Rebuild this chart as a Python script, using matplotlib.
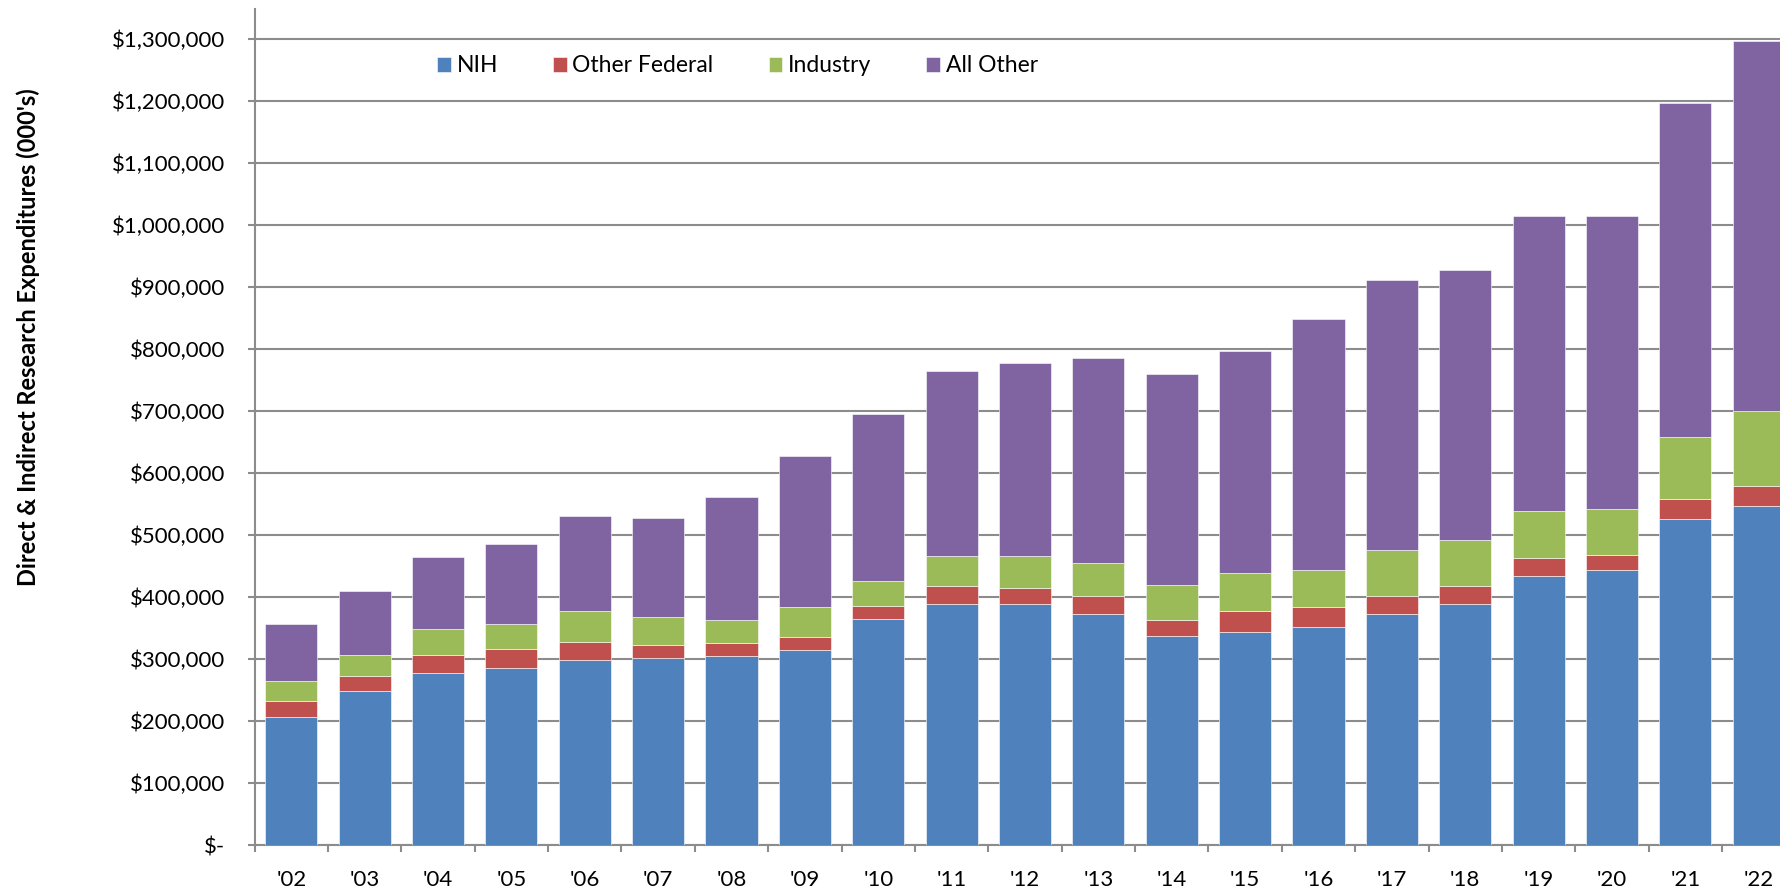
"""
Stacked bars of research expenditures by funding source, FY02 - FY22
"""

import matplotlib
matplotlib.use("Agg")
import matplotlib.pyplot as plt
import numpy as np
from matplotlib.ticker import FuncFormatter, MultipleLocator

years = ["'02", "'03", "'04", "'05", "'06", "'07", "'08", "'09", "'10", "'11", "'12",
         "'13", "'14", "'15", "'16", "'17", "'18", "'19", "'20", "'21", "'22"]

# values in $000's
nih = [207000, 248000, 278000, 285000, 298000, 301000, 305000, 314000, 364000, 389000, 389000,
       372000, 337000, 343000, 351000, 372000, 389000, 434000, 443000, 526000, 546000]
other_federal = [25000, 25000, 28000, 31000, 29000, 21000, 20000, 21000, 21000, 29000, 26000,
                 30000, 25000, 34000, 33000, 30000, 29000, 29000, 25000, 32000, 33000]
industry = [32000, 33000, 43000, 40000, 50000, 45000, 38000, 49000, 41000, 48000, 51000,
            52000, 58000, 61000, 59000, 73000, 74000, 75000, 73000, 100000, 121000]
all_other = [92000, 104000, 115000, 130000, 153000, 161000, 198000, 243000, 269000, 298000, 311000,
             332000, 340000, 359000, 405000, 436000, 435000, 476000, 473000, 539000, 596000]

series = [("NIH", nih, "#4F81BD"),
          ("Other Federal", other_federal, "#C0504D"),
          ("Industry", industry, "#9BBB59"),
          ("All Other", all_other, "#8064A2")]

plt.rcParams["font.family"] = ["Lato", "DejaVu Sans"]
grid_gray = "#8C8C8C"

fig = plt.figure(figsize=(17.8, 8.92), dpi=100)
# axes run off the right edge of the figure, like the reference
ax = fig.add_axes([254.6 / 1780, 47 / 892, 1540.8 / 1780, 836 / 892])

x = np.arange(len(years))
bottom = np.zeros(len(years))
for name, vals, color in series:
    ax.bar(x, vals, width=0.71, bottom=bottom, color=color, label=name,
           edgecolor="white", linewidth=0.4, zorder=3)
    bottom += np.array(vals)

ax.set_xlim(-0.5, len(years) - 0.5)
ax.set_ylim(0, 1348000)

ax.yaxis.set_major_locator(MultipleLocator(100000))
ax.yaxis.set_major_formatter(FuncFormatter(lambda v, p: "$-" if v == 0 else "${:,.0f}".format(v)))
ax.yaxis.grid(True, color=grid_gray, linewidth=1.5, zorder=0)

ax.set_xticks(x)
ax.set_xticklabels(years)
ax.set_xticks(np.arange(-0.5, len(years)), minor=True)
ax.tick_params(axis="x", which="major", length=0, pad=18, labelsize=16)
ax.tick_params(axis="x", which="minor", length=5, width=1.5, color=grid_gray, direction="out")
ax.tick_params(axis="y", length=5, width=1.5, color=grid_gray, direction="out", pad=16, labelsize=16)

for side in ["top", "right"]:
    ax.spines[side].set_visible(False)
for side in ["left", "bottom"]:
    ax.spines[side].set_color(grid_gray)
    ax.spines[side].set_linewidth(1.5)

fig.text(28 / 1780, 1 - 337 / 892, "Direct & Indirect Research Expenditures (000's)",
         rotation=90, ha="center", va="center", fontsize=17, fontweight="bold")

ax.legend(ncol=4, loc="center left", bbox_to_anchor=(437 / 1780, 1 - 66 / 892),
          bbox_transform=fig.transFigure, frameon=False, fontsize=16.5,
          handlelength=0.6, handleheight=0.6, handletextpad=0.25, columnspacing=2.4,
          borderpad=0, borderaxespad=0)

fig.savefig("out.png", dpi=100)
